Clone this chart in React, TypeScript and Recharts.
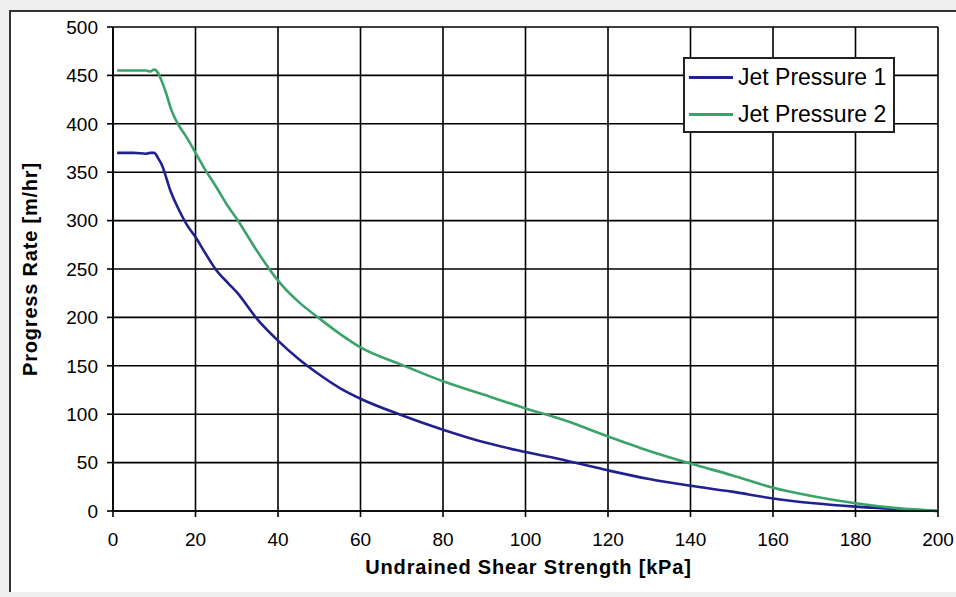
import { LineChart, Line, XAxis, YAxis, CartesianGrid, Legend, Label } from "recharts";

const SHEAR_KPA = [1, 5, 8, 9, 10, 11, 12, 13, 14, 15, 16, 18, 20, 22, 25, 28, 30, 35, 40, 45, 50, 55, 60, 70, 80, 90, 100, 110, 120, 130, 140, 150, 160, 170, 180, 190, 200];
const JET_PRESSURE_1 = [370, 370, 369, 370, 370, 364, 356, 343, 330, 320, 311, 295, 283, 269, 249, 235, 226, 198, 176, 157, 141, 127, 116, 99, 84, 71, 61, 52, 42, 33, 26, 20, 13, 8, 4.5, 2, 0];
const JET_PRESSURE_2 = [455, 455, 455, 454, 456, 452, 442, 430, 416, 406, 398, 385, 370, 355, 335, 314, 302, 268, 238, 216, 199, 183, 169, 151, 134, 120, 106, 93, 77, 62, 49, 37, 24, 15, 8, 3, 0];
const X_TICKS = [0, 20, 40, 60, 80, 100, 120, 140, 160, 180, 200];
const Y_TICKS = [0, 50, 100, 150, 200, 250, 300, 350, 400, 450, 500];

const FONT = "'Liberation Sans', Arial, sans-serif";
const BLUE = "#20208f";
const GREEN = "#3aa36a";

const data = SHEAR_KPA.map((x, i) => ({ x, jp1: JET_PRESSURE_1[i], jp2: JET_PRESSURE_2[i] }));

function LegendBox({ payload }: any) {
  return (
    <div
      style={{
        width: 208,
        height: 72,
        border: "2px solid #222",
        background: "#fff",
        fontFamily: FONT,
        fontSize: 23,
        color: "#000",
      }}
    >
      {(payload ?? []).map((p: any) => (
        <div key={p.value} style={{ display: "flex", alignItems: "center", height: 37, paddingLeft: 4 }}>
          <span style={{ display: "inline-block", width: 44, height: 3, background: p.color, marginRight: 5 }} />
          <span>{p.value}</span>
        </div>
      ))}
    </div>
  );
}

export default function App() {
  return (
    <div style={{ position: "absolute", left: 0, top: 0, width: 956, height: 597, background: "#efefef", fontFamily: FONT }}>
      <div
        style={{
          position: "absolute",
          left: 9,
          top: 10,
          width: 947,
          height: 580,
          background: "#fff",
          borderLeft: "2px solid #333",
          borderTop: "2px solid #333",
        }}
      />
      <div style={{ position: "absolute", left: 0, top: 0 }}>
        <LineChart width={956} height={597} data={data} margin={{ top: 27, right: 18, left: 53, bottom: 26 }}>
          <CartesianGrid stroke="#000" strokeWidth={1.6} />
          <XAxis
            dataKey="x"
            type="number"
            domain={[0, 200]}
            ticks={X_TICKS}
            height={60}
            tickSize={6}
            tickMargin={16}
            stroke="#000"
            strokeWidth={1.6}
            tick={{ fill: "#000", fontSize: 19, fontFamily: FONT }}
          >
            <Label
              value="Undrained Shear Strength [kPa]"
              position="insideBottom"
              offset={-3}
              dx={3}
              style={{ fontWeight: "bold", fontSize: 20, fill: "#000", fontFamily: FONT, letterSpacing: 0.8 }}
            />
          </XAxis>
          <YAxis
            type="number"
            domain={[0, 500]}
            ticks={Y_TICKS}
            width={60}
            tickSize={6}
            tickMargin={9}
            stroke="#000"
            strokeWidth={1.6}
            tick={{ fill: "#000", fontSize: 19, fontFamily: FONT }}
          >
            <Label
              value="Progress Rate [m/hr]"
              position="insideLeft"
              angle={-90}
              offset={-23}
              style={{ textAnchor: "middle", fontWeight: "bold", fontSize: 20, fill: "#000", fontFamily: FONT, letterSpacing: 0.8 }}
            />
          </YAxis>
          <Legend
            layout="vertical"
            verticalAlign="middle"
            align="center"
            content={<LegendBox />}
            wrapperStyle={{ position: "absolute", left: 683, top: 57, width: 212 }}
          />
          <Line
            type="monotone"
            dataKey="jp1"
            name="Jet Pressure 1"
            stroke={BLUE}
            strokeWidth={2.6}
            dot={false}
            isAnimationActive={false}
          />
          <Line
            type="monotone"
            dataKey="jp2"
            name="Jet Pressure 2"
            stroke={GREEN}
            strokeWidth={2.6}
            dot={false}
            isAnimationActive={false}
          />
        </LineChart>
      </div>
    </div>
  );
}
